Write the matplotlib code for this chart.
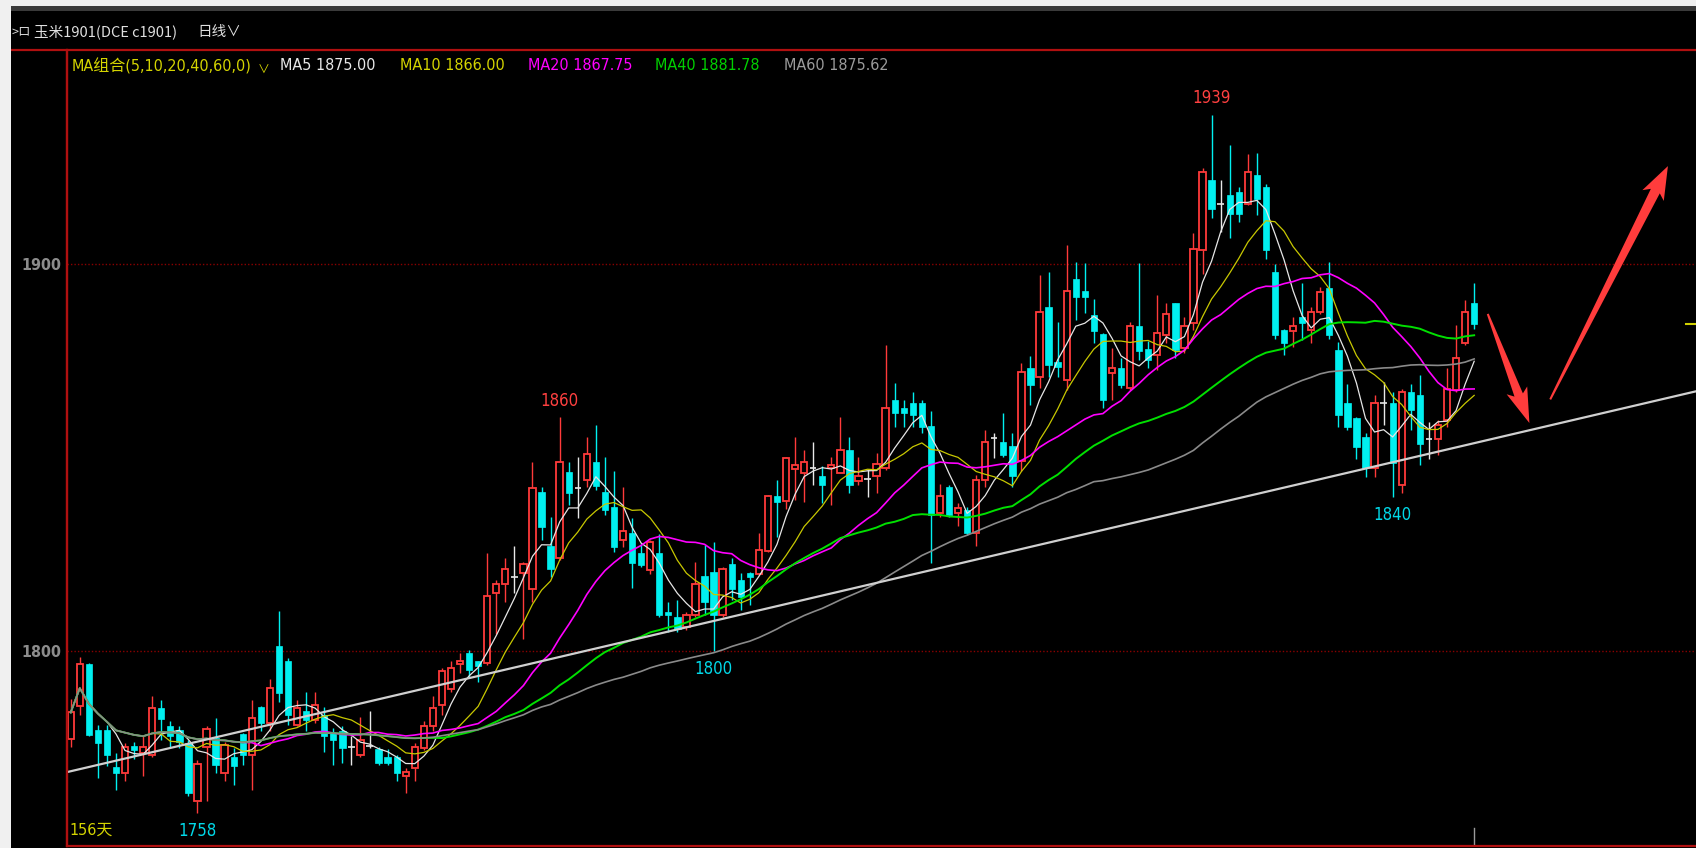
import numpy as np
import pandas as pd
import matplotlib
matplotlib.use("Agg")
import matplotlib.pyplot as plt
from matplotlib import font_manager
from matplotlib.patches import Rectangle, Polygon

# daily OHLC, 156 bars
opens = [1777.2, 1785.8, 1796.7, 1779.6, 1779.6, 1769.9, 1768.4, 1775.5, 1773.6, 1773.2,
         1785.2, 1780.7, 1779.6, 1776.2, 1761.3, 1775.3, 1777.5, 1768.4, 1772.7, 1778.6,
         1773.2, 1785.4, 1781.3, 1801.3, 1797.3, 1780.9, 1784.4, 1782.2, 1783.5, 1778.9,
         1779.4, 1775.3, 1773.2, 1775.5, 1774.6, 1772.5, 1772.5, 1767.6, 1769.7, 1774.9,
         1780.5, 1786.1, 1790.1, 1796.6, 1799.4, 1797.3, 1796.8, 1815.0, 1817.3, 1819.2,
         1820.2, 1815.9, 1841.1, 1827.1, 1823.9, 1846.3, 1842.0, 1844.2, 1848.9, 1841.1,
         1837.3, 1828.8, 1830.4, 1825.4, 1820.9, 1825.2, 1810.1, 1808.7, 1806.3, 1809.3,
         1819.4, 1820.5, 1809.3, 1822.6, 1818.3, 1820.2, 1820.0, 1825.9, 1840.0, 1838.8,
         1846.9, 1846.1, 1847.2, 1845.3, 1847.2, 1846.1, 1852.0, 1844.0, 1844.4, 1845.1,
         1847.2, 1864.9, 1862.9, 1864.0, 1864.0, 1858.2, 1835.6, 1842.5, 1835.6, 1836.5,
         1830.4, 1844.2, 1855.0, 1854.1, 1853.0, 1849.0, 1873.1, 1870.9, 1888.8, 1874.8,
         1870.1, 1896.1, 1892.9, 1886.9, 1881.9, 1871.9, 1873.2, 1867.9, 1884.0, 1878.0,
         1876.5, 1881.7, 1889.9, 1878.2, 1884.7, 1903.6, 1921.8, 1915.5, 1917.8, 1918.6,
         1915.6, 1923.0, 1919.8, 1898.0, 1882.9, 1882.7, 1886.2, 1882.9, 1887.6, 1893.9,
         1877.7, 1864.0, 1860.1, 1855.3, 1847.2, 1864.0, 1864.0, 1842.9, 1867.0, 1866.1,
         1854.9, 1854.9, 1859.6, 1867.4, 1879.5, 1889.8]
highs = [1787.5, 1798.4, 1796.9, 1780.9, 1780.9, 1773.6, 1776.2, 1776.6, 1778.1, 1788.4,
         1787.4, 1781.8, 1780.7, 1777.0, 1771.9, 1780.7, 1782.8, 1776.6, 1774.9, 1778.8,
         1787.4, 1785.8, 1792.7, 1810.2, 1798.1, 1787.4, 1789.5, 1789.3, 1785.5, 1780.0,
         1780.7, 1777.9, 1782.9, 1784.4, 1775.3, 1774.6, 1773.1, 1769.7, 1776.2, 1781.8,
         1788.4, 1795.5, 1797.3, 1799.4, 1800.3, 1797.3, 1825.2, 1818.3, 1823.9, 1827.2,
         1823.1, 1848.9, 1842.3, 1834.7, 1860.4, 1848.9, 1850.0, 1855.2, 1858.4, 1850.0,
         1846.6, 1842.3, 1834.3, 1827.8, 1828.8, 1830.2, 1812.7, 1813.2, 1810.1, 1823.1,
         1827.4, 1828.1, 1821.8, 1823.9, 1820.2, 1820.5, 1830.4, 1840.3, 1844.3, 1850.2,
         1855.2, 1851.9, 1854.1, 1847.8, 1850.1, 1860.4, 1855.2, 1850.1, 1847.0, 1851.1,
         1879.1, 1869.2, 1864.9, 1867.0, 1864.9, 1861.9, 1843.2, 1842.9, 1838.2, 1837.2,
         1845.5, 1857.1, 1856.3, 1861.4, 1856.3, 1874.4, 1876.1, 1897.2, 1898.0, 1885.1,
         1904.9, 1900.6, 1900.2, 1890.9, 1882.1, 1878.2, 1875.7, 1885.1, 1900.2, 1880.0,
         1892.0, 1889.9, 1889.9, 1886.2, 1908.0, 1924.9, 1938.5, 1921.8, 1930.7, 1919.8,
         1928.5, 1928.7, 1920.8, 1900.1, 1883.3, 1886.2, 1895.0, 1888.9, 1894.1, 1900.6,
         1879.9, 1869.1, 1860.5, 1856.2, 1866.1, 1869.5, 1867.0, 1867.8, 1869.1, 1871.3,
         1859.2, 1859.6, 1873.0, 1884.2, 1890.7, 1895.0]
lows = [1775.3, 1783.5, 1777.9, 1767.1, 1770.2, 1764.1, 1766.3, 1772.0, 1767.6, 1772.7,
        1777.0, 1775.3, 1774.9, 1762.4, 1758.1, 1761.1, 1768.4, 1766.3, 1765.4, 1770.6,
        1764.1, 1779.2, 1779.2, 1786.9, 1780.9, 1780.5, 1779.2, 1781.3, 1774.0, 1770.6,
        1771.0, 1770.6, 1772.7, 1774.9, 1770.6, 1770.6, 1766.3, 1763.3, 1766.3, 1774.4,
        1779.2, 1783.5, 1789.5, 1794.3, 1793.0, 1792.1, 1796.4, 1804.5, 1812.7, 1814.9,
        1803.0, 1812.7, 1828.7, 1819.2, 1823.5, 1837.7, 1834.3, 1842.4, 1841.6, 1835.1,
        1825.6, 1826.9, 1816.2, 1821.8, 1820.0, 1808.8, 1805.0, 1805.0, 1805.4, 1808.8,
        1809.3, 1800.0, 1808.8, 1813.2, 1810.6, 1811.9, 1819.6, 1825.6, 1829.5, 1836.8,
        1839.0, 1838.6, 1842.9, 1838.2, 1837.8, 1845.9, 1840.8, 1842.9, 1839.9, 1840.9,
        1846.8, 1858.0, 1858.0, 1858.0, 1856.3, 1822.7, 1834.7, 1834.7, 1832.2, 1830.0,
        1827.0, 1842.5, 1849.8, 1850.2, 1842.5, 1846.4, 1863.6, 1867.9, 1870.9, 1870.9,
        1867.5, 1885.6, 1887.3, 1879.5, 1862.7, 1864.9, 1867.9, 1867.5, 1875.2, 1873.1,
        1872.6, 1879.5, 1875.6, 1876.9, 1883.0, 1897.5, 1911.8, 1908.3, 1906.6, 1910.9,
        1915.2, 1912.6, 1901.4, 1880.7, 1876.4, 1878.6, 1880.3, 1879.5, 1887.2, 1880.7,
        1857.9, 1857.1, 1849.7, 1845.0, 1845.0, 1858.4, 1839.8, 1840.7, 1857.1, 1848.0,
        1849.7, 1850.6, 1857.9, 1867.0, 1879.0, 1883.3]
closes = [1784.1, 1796.7, 1778.3, 1776.2, 1773.2, 1768.4, 1775.3, 1774.3, 1775.3, 1785.2,
          1782.5, 1777.9, 1776.6, 1763.3, 1770.8, 1779.8, 1770.6, 1775.7, 1770.3, 1773.2,
          1782.6, 1781.3, 1790.4, 1789.1, 1783.5, 1785.2, 1782.2, 1786.1, 1777.9, 1777.0,
          1774.9, 1775.3, 1777.0, 1775.5, 1771.0, 1771.0, 1768.4, 1768.7, 1775.3, 1780.7,
          1785.2, 1794.7, 1795.5, 1797.3, 1795.1, 1796.0, 1814.2, 1817.3, 1821.3, 1819.2,
          1822.6, 1842.0, 1832.1, 1821.1, 1848.9, 1840.7, 1842.0, 1850.9, 1842.6, 1836.4,
          1826.9, 1831.1, 1822.8, 1822.2, 1828.1, 1809.3, 1809.3, 1805.6, 1809.3, 1817.3,
          1812.7, 1809.3, 1821.3, 1815.9, 1814.0, 1819.0, 1826.1, 1840.0, 1838.6, 1849.8,
          1848.0, 1848.9, 1847.2, 1842.9, 1848.1, 1852.0, 1843.0, 1845.3, 1844.4, 1848.4,
          1862.7, 1861.4, 1861.4, 1861.0, 1858.0, 1835.2, 1840.1, 1835.2, 1836.9, 1830.4,
          1844.2, 1854.1, 1855.0, 1850.7, 1845.1, 1872.2, 1868.8, 1887.7, 1873.9, 1873.5,
          1892.9, 1891.6, 1891.6, 1882.8, 1864.9, 1873.2, 1868.8, 1884.0, 1877.4, 1875.2,
          1882.1, 1887.1, 1877.8, 1884.0, 1903.8, 1923.8, 1914.3, 1915.5, 1913.0, 1913.0,
          1923.8, 1916.9, 1903.6, 1881.6, 1879.5, 1883.9, 1884.8, 1887.6, 1892.8, 1881.6,
          1861.0, 1857.9, 1852.8, 1847.2, 1864.0, 1864.0, 1848.5, 1867.0, 1862.2, 1853.6,
          1854.9, 1858.4, 1867.8, 1875.8, 1887.7, 1884.6]

ma_periods = [5, 10, 20, 40, 60]
ma_colors = ['#e6e6e6', '#c8c800', '#ff00ff', '#00e000', '#8a8a8a']
ma_widths = [0.9, 0.9, 1.2, 1.4, 1.2]
ma_last = ['1875.00', '1866.00', '1867.75', '1881.78', '1875.62']

# marked extremes: (bar number, value, above?)
marks = [(15, 1758, False), (55, 1860, True), (72, 1800, False),
         (127, 1939, True), (147, 1840, False)]

# hand-drawn trend line (bar, price) at both ends
trend_x = [0.6, 180.5]
trend_y = [1768.7, 1867.1]

fl = font_manager.fontManager.ttflist
names = {f.name for f in fl}
cond = any(f.name == 'DejaVu Sans' and 'condensed' in str(f.stretch) for f in fl)
narrow = 'Liberation Sans Narrow' if 'Liberation Sans Narrow' in names else 'DejaVu Sans'
small = narrow != 'DejaVu Sans'
stretch = 'condensed' if (not small and cond) else 'normal'
lat = [narrow, 'Noto Sans CJK SC']
cjk = ['Noto Sans CJK SC', 'DejaVu Sans']
boost = 1.0 if stretch == 'normal' else 1.1

W, H = 1696, 848
fig = plt.figure(figsize=(W / 100, H / 100), dpi=100, facecolor='black')

ax = fig.add_axes([67 / W, 2 / H, (W - 67) / W, 796 / H])
ax.set_facecolor('black')
ax.set_xlim(0.59, 180.5)
ax.set_ylim(1749.6, 1955.3)

o = np.array(opens); h = np.array(highs); l = np.array(lows); c = np.array(closes)
x = np.arange(1, len(c) + 1)
bw = 0.7
red, cyan, white = '#ff3a3a', '#00f0f0', '#e8e8e8'
for xi, oi, hi, li, ci in zip(x, o, h, l, c):
    if ci > oi:
        ax.vlines(xi, ci, hi, color=red, lw=1.0, zorder=2)
        ax.vlines(xi, li, oi, color=red, lw=1.0, zorder=2)
        ax.add_patch(Rectangle((xi - bw / 2, oi), bw, ci - oi, facecolor='black',
                               edgecolor=red, lw=1.3, zorder=3))
    elif ci < oi:
        ax.vlines(xi, li, hi, color=cyan, lw=1.0, zorder=2)
        ax.add_patch(Rectangle((xi - bw / 2, ci), bw, oi - ci, facecolor=cyan,
                               edgecolor=cyan, lw=0.5, zorder=3))
    else:
        ax.vlines(xi, li, hi, color=white, lw=1.0, zorder=2)
        ax.hlines(oi, xi - bw / 2, xi + bw / 2, color=white, lw=1.2, zorder=3)

cs = pd.Series(c)
for n, col, lw in zip(ma_periods, ma_colors, ma_widths):
    ax.plot(x, cs.rolling(n, min_periods=1).mean(), color=col, lw=lw, zorder=4)

ax.plot(trend_x, trend_y, color='#cfcfcf', lw=1.6, zorder=5)

for b, v, above in marks:
    yv = h[b - 1] if above else l[b - 1]
    ax.annotate(str(v), (b, yv), xytext=(0, 12 if above else -13), textcoords='offset points',
                ha='center', va='center', color='#ff4040' if above else '#00d8e8',
                fontsize=(14.5 if small else 11 * boost), family=lat, fontstretch=stretch)

# grid at the two labelled levels
ax.set_yticks([1800, 1900])
ax.set_yticklabels(['1800', '1900'])
ax.grid(axis='y', color='#8a0000', lw=1.0, ls=(0, (1, 1.5)))
ax.set_xticks([])
ax.tick_params(axis='y', length=0, pad=4, colors='#8c8c8c',
               labelsize=12.5 if small else 10.5 * boost)
for t in ax.get_yticklabels():
    t.set_family(lat); t.set_fontweight('bold'); t.set_fontstretch(stretch)
for s in ['left', 'bottom']:
    ax.spines[s].set_color('#b01010'); ax.spines[s].set_linewidth(1.6)
ax.spines['top'].set_visible(False)
ax.spines['right'].set_visible(False)

# last close marker at right edge and cursor tick at the bottom
ax.axhline(c[-1], xmin=0.994, xmax=1, color='#d0d000', lw=1.5)
ax.axvline(len(c), ymin=0, ymax=0.023, color='#9a9a9a', lw=1.0)


def arrow(p0, p1, hl, hw, w0, w1):
    a = ax.transData.transform(p0); b = ax.transData.transform(p1)
    u = (b - a) / np.hypot(*(b - a)); nrm = np.array([-u[1], u[0]])
    base = b - u * hl
    barb = b - u * (hl + 5)
    pts = [a + nrm * w0, base + nrm * w1, barb + nrm * hw, b,
           barb - nrm * hw, base - nrm * w1, a - nrm * w0]
    pts = ax.transData.inverted().transform(np.array(pts))
    ax.add_patch(Polygon(pts, closed=True, facecolor='#ff3c3c', edgecolor='none', zorder=6))


arrow((157.5, 1887.1), (162.1, 1858.9), 30, 11, 1.0, 4.5)
arrow((164.4, 1865.0), (177.4, 1925.3), 28, 12, 1.0, 5.0)

# window frame: light strips, title row, top rule
fig.patches.append(Rectangle((0, 1 - 6 / H), 1, 6 / H, transform=fig.transFigure,
                             facecolor='#f0f0f0', edgecolor='none', zorder=10))
fig.patches.append(Rectangle((0, 1 - 11 / H), 1, 5 / H, transform=fig.transFigure,
                             facecolor='#3a3a3a', edgecolor='none', zorder=10))
fig.patches.append(Rectangle((0, 0), 11 / W, 1, transform=fig.transFigure,
                             facecolor='#f0f0f0', edgecolor='none', zorder=10))
fig.add_artist(plt.Line2D([11 / W, 1], [1 - 50 / H] * 2, color='#b01010', lw=1.6))
fig.add_artist(plt.Line2D([67 / W] * 2, [2 / H, 1 - 50 / H], color='#b01010', lw=1.6))

fig.text(12 / W, 1 - 32 / H, '>ロ', color='#d8d8d8', fontsize=9, family=cjk, va='center')
fig.text(34 / W, 1 - 32 / H, '玉米1901(DCE c1901)', color='#e0e0e0', fontsize=10.5,
         family=cjk, va='center')
fig.text(197 / W, 1 - 32 / H, '日线∨', color='#e0e0e0', fontsize=10.5, family=cjk, va='center')

fs = 13.5 if small else 10.5 * boost
ly = 1 - 66 / H
fig.text(72 / W, ly, 'MA组合(5,10,20,40,60,0)', color='#d4d400', fontsize=fs, family=lat,
         fontstretch=stretch, va='center')
fig.text(258 / W, ly - 3 / H, '∨', color='#d4d400', fontsize=fs - 3, family=cjk, va='center')
lx = [280, 400, 528, 655, 784]
for xx, n, col, val in zip(lx, ma_periods, ['#e8e8e8', '#d4d400', '#ff00ff', '#00d000', '#9a9a9a'], ma_last):
    fig.text(xx / W, ly, f'MA{n} {val}', color=col, fontsize=fs, family=lat,
             fontstretch=stretch, va='center')

fig.text(69 / W, 1 - 830 / H, f'{len(c)}天', color='#d4d400', fontsize=fs, family=lat,
         fontstretch=stretch, va='center')

fig.savefig('out.png', dpi=100, facecolor='black')
